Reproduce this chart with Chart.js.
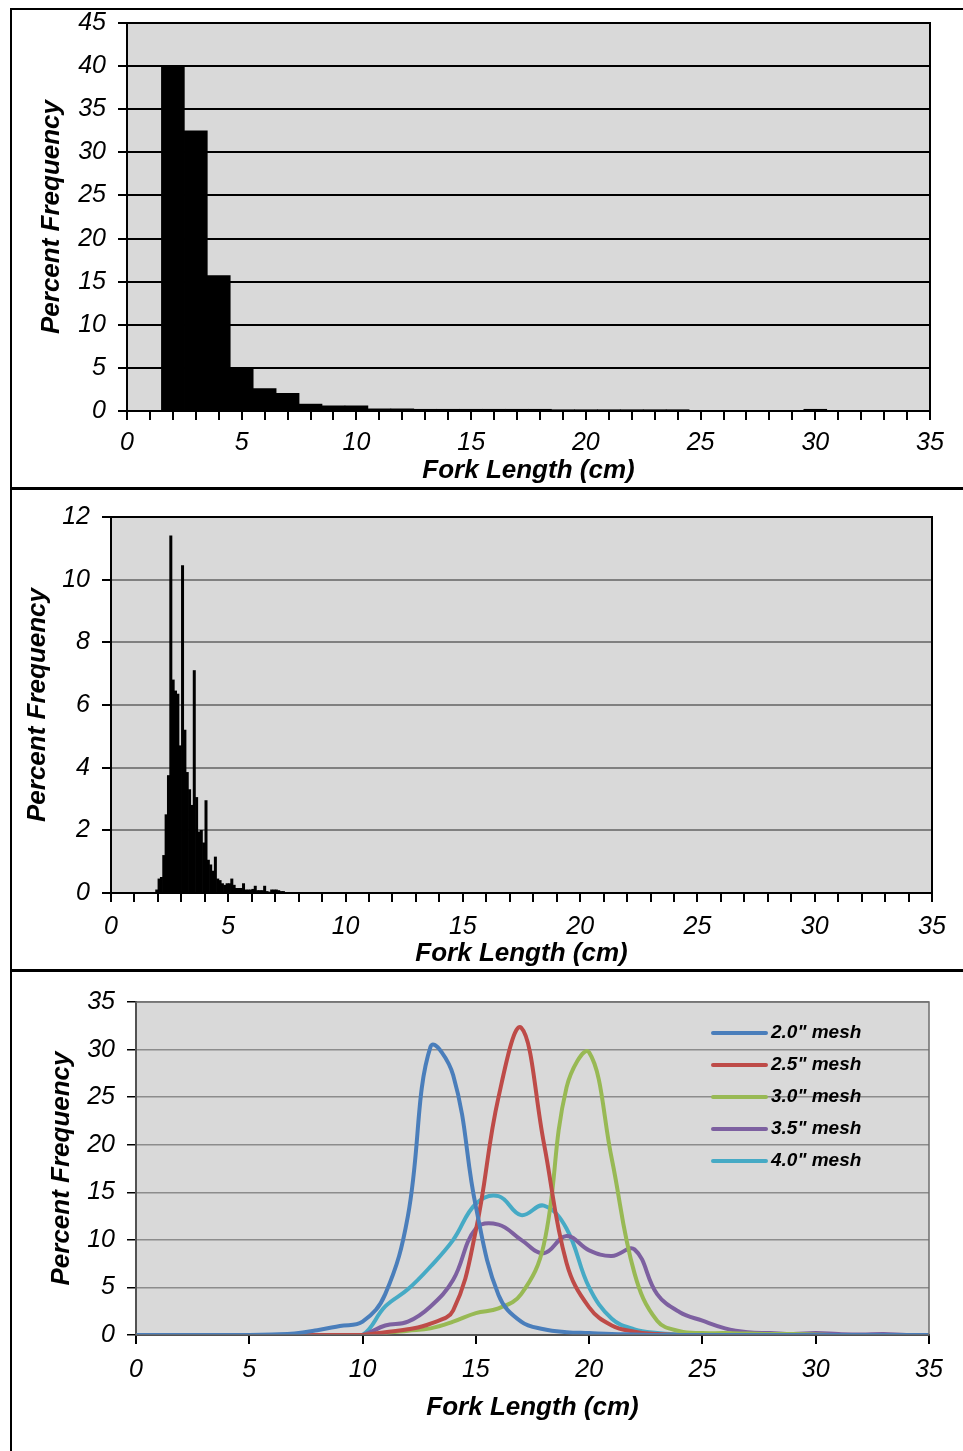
<!DOCTYPE html>
<html>
<head>
<meta charset="utf-8">
<script src="https://cdn.jsdelivr.net/npm/chart.js@4.4.1/dist/chart.umd.min.js"></script>
<style>
  body { margin: 0; background: #fff; width: 963px; height: 1451px; position: relative; overflow: hidden; }
  canvas { position: absolute; left: 0; }
  .rule { position: absolute; background: #000; }
</style>
</head>
<body>
<canvas id="chart1" width="963" height="492" style="top:-4px"></canvas>
<canvas id="chart2" width="963" height="482" style="top:490px"></canvas>
<canvas id="chart3" width="963" height="479" style="top:972px"></canvas>

<div class="rule" style="left:10px; top:8px; width:953px; height:2px;"></div>
<div class="rule" style="left:10px; top:8px; width:2px; height:1443px;"></div>
<div class="rule" style="left:10px; top:487px; width:953px; height:3px;"></div>
<div class="rule" style="left:10px; top:969px; width:953px; height:3px;"></div>

<script>
// Painel 1: histograma com classes de 1 cm
const classes1cm = [2, 3, 4, 5, 6, 7, 8, 9, 10, 11, 12, 13, 14, 15, 16, 17, 18, 19, 20, 21, 22, 23, 24, 30];
const freq1cm = [40, 32.5, 15.7, 4.95, 2.6, 2.05, 0.8, 0.6, 0.6, 0.25, 0.25, 0.2, 0.2, 0.2, 0.2, 0.2, 0.2, 0.15, 0.15, 0.15, 0.15, 0.15, 0.15, 0.2];

// Painel 2: histograma com classes de 1 mm
const classes1mm = [1.95, 2.05, 2.15, 2.25, 2.35, 2.45, 2.55, 2.65, 2.75, 2.85, 2.95,
  3.05, 3.15, 3.25, 3.35, 3.45, 3.55, 3.65, 3.75, 3.85, 3.95,
  4.05, 4.15, 4.25, 4.35, 4.45, 4.55, 4.65, 4.75, 4.85, 4.95,
  5.05, 5.15, 5.25, 5.35, 5.45, 5.55, 5.65, 5.75, 5.85, 5.95,
  6.05, 6.15, 6.25, 6.35, 6.45, 6.55, 6.65, 6.75, 6.85, 6.95,
  7.05, 7.15, 7.25, 7.35];
const freq1mm = [0.1, 0.45, 0.5, 1.2, 2.5, 3.75, 11.4, 6.8, 6.45, 6.35, 4.7,
  10.45, 5.2, 3.85, 3.3, 2.8, 7.1, 3.05, 1.95, 2.0, 1.6,
  2.95, 1.05, 0.9, 0.7, 1.15, 0.45, 0.4, 0.3, 0.25, 0.3,
  0.3, 0.45, 0.25, 0.15, 0.15, 0.15, 0.3, 0.1, 0.1, 0.1,
  0.12, 0.22, 0.08, 0.08, 0.08, 0.22, 0.05, 0.03, 0.1, 0.1,
  0.1, 0.08, 0.05, 0.05];

// Painel 3: curvas por malha
const comprimentos = [0, 1, 2, 3, 4, 5, 6, 7, 8, 9, 10, 11, 12, 13, 14, 15, 16, 17, 18, 19, 20,
  21, 22, 23, 24, 25, 26, 27, 28, 29, 30, 31, 32, 33, 34, 35];
const malha20 = [0, 0, 0, 0, 0, 0, 0.05, 0.15, 0.5, 0.95, 1.4, 4.3, 12.5, 30.3, 27.3, 13.5, 4.2, 1.4, 0.6, 0.3, 0.2,
  0.1, 0.05, 0, 0, 0, 0, 0, 0, 0, 0, 0, 0, 0, 0, 0];
const malha25 = [0, 0, 0, 0, 0, 0, 0, 0, 0, 0, 0, 0.3, 0.6, 1.2, 2.6, 11, 25, 32.3, 20.2, 7.6, 2.9,
  1.0, 0.35, 0.1, 0, 0, 0, 0, 0, 0, 0, 0, 0, 0, 0, 0];
const malha30 = [0, 0, 0, 0, 0, 0, 0, 0, 0, 0, 0, 0.2, 0.45, 0.7, 1.4, 2.3, 2.8, 4.3, 9.5, 26, 29.7,
  18.5, 6.5, 1.5, 0.4, 0.2, 0.2, 0.15, 0.1, 0.1, 0.05, 0, 0, 0, 0, 0];
const malha35 = [0, 0, 0, 0, 0, 0, 0, 0, 0, 0, 0, 1.0, 1.4, 3.0, 5.8, 11.2, 11.6, 10.0, 8.6, 10.4, 8.9,
  8.3, 9.0, 4.3, 2.4, 1.5, 0.7, 0.3, 0.2, 0.1, 0.2, 0.1, 0.05, 0.1, 0, 0];
const malha40 = [0, 0, 0, 0, 0, 0, 0, 0, 0, 0, 0, 3.0, 4.8, 7.2, 10.0, 13.8, 14.6, 12.6, 13.6, 11.2, 5.0,
  1.7, 0.6, 0.2, 0.05, 0, 0, 0, 0, 0, 0, 0, 0, 0, 0, 0];
const nomesMalha = ['2.0" mesh', '2.5" mesh', '3.0" mesh', '3.5" mesh', '4.0" mesh'];
const coresMalha = ['#4a7ebb', '#be4b48', '#98b954', '#7d60a0', '#46aac5'];

Chart.defaults.color = '#000';
Chart.defaults.font.family = '"Liberation Sans", Arial, sans-serif';
Chart.defaults.animation = false;

const fonteTick = { size: 25, style: 'italic' };
const fonteTitulo = { size: 26, style: 'italic', weight: 'bold' };

// Fundo cinza e moldura da área do gráfico
const caixaPlot = {
  id: 'caixaPlot',
  beforeDraw(chart, args, opts) {
    const a = chart.chartArea, ctx = chart.ctx;
    ctx.save();
    ctx.fillStyle = '#d9d9d9';
    ctx.fillRect(a.left, a.top, a.right - a.left, a.bottom - a.top);
    ctx.restore();
  },
  afterDatasetsDraw(chart, args, opts) {
    const a = chart.chartArea, ctx = chart.ctx;
    ctx.save();
    ctx.strokeStyle = opts.cor || '#000';
    ctx.lineWidth = opts.largura || 2;
    ctx.strokeRect(a.left, a.top, a.right - a.left, a.bottom - a.top);
    ctx.restore();
  }
};

// Legenda dentro da área do gráfico (painel 3)
const legendaMalha = {
  id: 'legendaMalha',
  afterDraw(chart, args, opts) {
    const ctx = chart.ctx;
    ctx.save();
    ctx.font = 'italic bold 19px "Liberation Sans", Arial, sans-serif';
    ctx.textBaseline = 'middle';
    chart.data.datasets.forEach((ds, i) => {
      const y = opts.y + i * opts.passo;
      ctx.strokeStyle = ds.borderColor;
      ctx.lineWidth = 4;
      ctx.lineCap = 'round';
      ctx.beginPath();
      ctx.moveTo(opts.x, y);
      ctx.lineTo(opts.x + 53, y);
      ctx.stroke();
      ctx.fillStyle = '#000';
      ctx.fillText(ds.label, opts.x + 58, y);
    });
    ctx.restore();
  }
};

function larguraFixa(w) { return s => { s.width = w; }; }
function alturaFixa(h) { return s => { s.height = h; }; }

function eixoX(opts) {
  return {
    type: 'linear', min: 0, max: 35, offset: false,
    afterFit: alturaFixa(opts.altura),
    grid: { drawOnChartArea: false, drawTicks: true, tickLength: 9, color: '#000', lineWidth: 2, offset: false },
    border: { display: true, color: '#000', width: 2 },
    ticks: {
      stepSize: opts.passo, autoSkip: false, maxRotation: 0, font: fonteTick, padding: opts.pad,
      callback: v => (v % 5 === 0 ? v : '')
    },
    title: { display: true, text: 'Fork Length (cm)', font: fonteTitulo, padding: { top: 0, bottom: opts.tituloPad } }
  };
}

function eixoY(opts) {
  return {
    min: 0, max: opts.max, afterFit: larguraFixa(opts.largura),
    grid: { color: opts.corGrade, lineWidth: opts.larguraGrade, tickLength: 9, tickColor: '#000' },
    border: { display: true, color: '#000', width: 2 },
    ticks: { stepSize: opts.passo, font: fonteTick, padding: 12 },
    title: { display: true, text: 'Percent Frequency', font: fonteTitulo, padding: { top: opts.tituloPad, bottom: 0 } }
  };
}

new Chart(document.getElementById('chart1'), {
  type: 'bar',
  data: {
    datasets: [{
      data: classes1cm.map((c, i) => ({ x: c, y: freq1cm[i] })),
      backgroundColor: '#000', borderWidth: 0,
      barPercentage: 1, categoryPercentage: 1
    }]
  },
  options: {
    responsive: false,
    layout: { padding: { top: 0, right: 33, left: 0, bottom: 0 } },
    plugins: { legend: { display: false }, tooltip: { enabled: false }, caixaPlot: { cor: '#000', largura: 2 } },
    scales: {
      x: eixoX({ passo: 1, altura: 77, pad: 8, tituloPad: 2 }),
      y: eixoY({ max: 45, passo: 5, largura: 127, corGrade: '#000', larguraGrade: 2, tituloPad: 36 })
    }
  },
  plugins: [caixaPlot]
});

new Chart(document.getElementById('chart2'), {
  type: 'bar',
  data: {
    datasets: [{
      data: classes1mm.map((c, i) => ({ x: c, y: freq1mm[i] })),
      backgroundColor: '#000', borderWidth: 0,
      barPercentage: 1, categoryPercentage: 1
    }]
  },
  options: {
    responsive: false,
    layout: { padding: { top: 27, right: 31, left: 0, bottom: 0 } },
    plugins: { legend: { display: false }, tooltip: { enabled: false }, caixaPlot: { cor: '#000', largura: 2 } },
    scales: {
      x: eixoX({ passo: 1, altura: 79, pad: 10, tituloPad: 3 }),
      y: eixoY({ max: 12, passo: 2, largura: 111, corGrade: '#808080', larguraGrade: 2, tituloPad: 22 })
    }
  },
  plugins: [caixaPlot]
});

const series = [malha20, malha25, malha30, malha35, malha40];
new Chart(document.getElementById('chart3'), {
  type: 'line',
  data: {
    datasets: series.map((s, k) => ({
      label: nomesMalha[k],
      data: comprimentos.map((c, i) => ({ x: c, y: s[i] })),
      borderColor: coresMalha[k], borderWidth: 4, pointRadius: 0,
      tension: 0.4, fill: false
    }))
  },
  options: {
    responsive: false,
    layout: { padding: { top: 30, right: 34, left: 0, bottom: 0 } },
    plugins: {
      legend: { display: false }, tooltip: { enabled: false },
      caixaPlot: { cor: '#6e6e6e', largura: 1.5 },
      legendaMalha: { x: 713, y: 61, passo: 32 }
    },
    scales: {
      x: eixoX({ passo: 5, altura: 116, pad: 11, tituloPad: 28 }),
      y: eixoY({ max: 35, passo: 5, largura: 136, corGrade: '#8c8c8c', larguraGrade: 1.5, tituloPad: 46 })
    }
  },
  plugins: [caixaPlot, legendaMalha]
});
</script>
</body>
</html>
